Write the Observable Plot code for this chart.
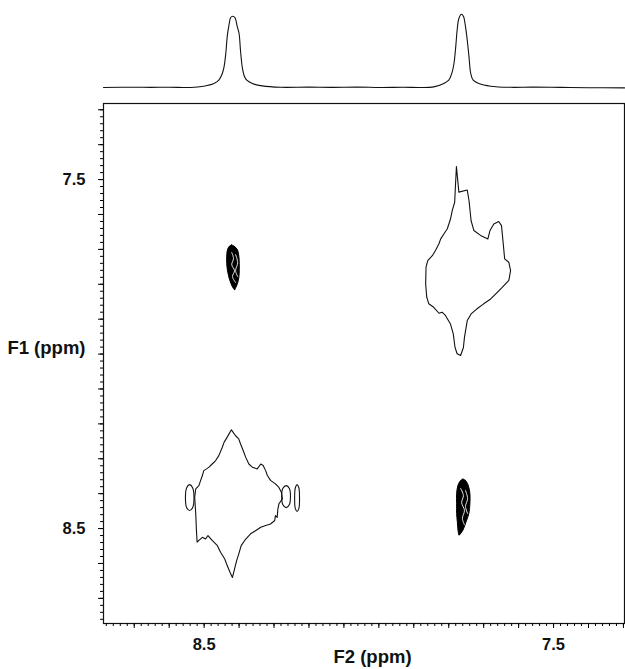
<!DOCTYPE html>
<html><head><meta charset="utf-8">
<script src="https://cdn.jsdelivr.net/npm/d3@7"></script>
<script src="https://cdn.jsdelivr.net/npm/@observablehq/plot@0.6"></script>
<style>
html,body{margin:0;padding:0;background:#fff;}
#chart svg{display:block;}
</style></head><body><div id="chart"></div>
<script>
// ---- Data (ppm) ----
const f2Domain = [8.788, 7.297];
const f1Domain = [7.282, 8.772];
const tickLabels = [8.5, 7.5];
const axisTitles = ["F2 (ppm)", "F1 (ppm)"];

// 1D projection spectrum along F2: [ppm, relative intensity]
const spectrum = [
  [8.788,0],[8.700,0.3],[8.653,0.1],[8.600,0.3],[8.539,0],[8.501,1.3],[8.472,4],[8.458,7.3],
  [8.448,14],[8.443,20.6],[8.438,34],[8.434,50.6],[8.429,62.3],[8.424,70],[8.418,71.3],
  [8.412,70],[8.405,60.6],[8.400,54],[8.396,37.3],[8.391,20.6],[8.386,12.3],[8.378,7.3],
  [8.362,4],[8.334,1.6],[8.281,0.2],[8.200,0.4],[8.138,0.1],[8.060,0.4],[7.995,0],[7.930,0.2],
  [7.881,0],[7.843,0.6],[7.814,4],[7.800,7.3],[7.790,15.6],[7.785,24],[7.780,40.6],
  [7.776,57.3],[7.771,69],[7.764,73.3],[7.758,71.3],[7.752,60.6],[7.747,47.3],[7.742,30.6],
  [7.737,14],[7.730,7.3],[7.714,4],[7.680,1.3],[7.623,0.2],[7.560,0.4],[7.480,0.1],[7.400,-0.2],[7.297,-0.4]
];

// Diagonal peak near 7.77 ppm: outline [F2, F1]
const diagPeakHigh = [
  [7.778,7.463],[7.771,7.536],[7.747,7.530],[7.742,7.560],[7.736,7.618],[7.728,7.646],[7.709,7.660],
  [7.688,7.670],[7.682,7.646],[7.671,7.627],[7.657,7.620],[7.649,7.632],[7.644,7.684],[7.640,7.727],
  [7.628,7.737],[7.623,7.761],[7.628,7.789],[7.647,7.809],[7.661,7.823],[7.680,7.842],[7.700,7.856],
  [7.720,7.871],[7.736,7.885],[7.747,7.904],[7.755,7.952],[7.758,7.981],[7.766,8.004],[7.776,7.999],
  [7.782,7.981],[7.787,7.942],[7.795,7.914],[7.809,7.890],[7.819,7.880],[7.828,7.883],[7.843,7.866],
  [7.857,7.856],[7.863,7.837],[7.866,7.799],[7.865,7.751],[7.860,7.732],[7.847,7.718],[7.838,7.703],
  [7.828,7.684],[7.823,7.670],[7.814,7.656],[7.804,7.641],[7.795,7.613],[7.790,7.589],[7.783,7.565],
  [7.781,7.522]
];

// Diagonal peak near 8.42 ppm: outline [F2, F1]
const diagPeakLow = [
  [8.422,8.217],[8.410,8.234],[8.401,8.243],[8.396,8.257],[8.388,8.277],[8.381,8.296],[8.372,8.315],
  [8.362,8.324],[8.348,8.329],[8.338,8.315],[8.331,8.319],[8.324,8.334],[8.319,8.348],[8.310,8.362],
  [8.296,8.372],[8.286,8.382],[8.279,8.396],[8.276,8.415],[8.286,8.429],[8.289,8.444],[8.291,8.468],
  [8.296,8.463],[8.298,8.477],[8.310,8.487],[8.324,8.491],[8.338,8.496],[8.353,8.506],[8.367,8.515],
  [8.381,8.530],[8.394,8.549],[8.401,8.573],[8.407,8.592],[8.413,8.616],[8.419,8.640],[8.426,8.625],
  [8.434,8.606],[8.441,8.587],[8.453,8.568],[8.462,8.549],[8.477,8.534],[8.489,8.520],[8.496,8.530],
  [8.505,8.525],[8.515,8.534],[8.520,8.539],[8.522,8.506],[8.524,8.458],[8.527,8.410],[8.524,8.386],
  [8.515,8.377],[8.510,8.362],[8.505,8.348],[8.501,8.334],[8.493,8.329],[8.486,8.324],[8.477,8.315],
  [8.467,8.305],[8.458,8.291],[8.448,8.267],[8.443,8.253],[8.434,8.238]
];

// Small side lobes beside the 8.42 diagonal peak
const lobeLeft = [[8.5415,8.374],[8.533,8.383],[8.529,8.411],[8.533,8.440],[8.5415,8.448],[8.550,8.440],[8.5535,8.411],[8.550,8.383]];
const lobeRight1 = [[8.265,8.377],[8.256,8.385],[8.253,8.408],[8.256,8.431],[8.265,8.440],[8.275,8.431],[8.278,8.408],[8.275,8.385]];
const lobeRight2 = [[8.234,8.374],[8.229,8.383],[8.227,8.413],[8.229,8.443],[8.234,8.451],[8.239,8.443],[8.241,8.413],[8.239,8.383]];

// Cross peaks (dense contour stacks): rows [F1, F2 left edge, F2 right edge]
const crossPeakA = [
  [7.689,8.420,8.420],[7.692,8.426,8.413],[7.703,8.432,8.403],[7.723,8.434,8.399],[7.742,8.434,8.398],
  [7.761,8.432,8.398],[7.780,8.428,8.399],[7.799,8.422,8.403],[7.813,8.415,8.409],[7.818,8.411,8.411]
];
const crossPeakB = [
  [8.360,7.758,7.758],[8.363,7.764,7.751],[8.377,7.772,7.743],[8.401,7.776,7.738],[8.429,7.776,7.738],
  [8.458,7.776,7.741],[8.482,7.774,7.749],[8.506,7.772,7.758],[8.520,7.770,7.768]
];
// light gaps between the innermost contour levels
const gapsA = [
  [[8.421,7.709],[8.416,7.726],[8.421,7.744],[8.413,7.761],[8.419,7.778],[8.410,7.795]],
  [[8.410,7.715],[8.404,7.738],[8.410,7.761],[8.404,7.778]]
];
const gapsB = [
  [[7.766,8.385],[7.758,8.405],[7.763,8.426],[7.755,8.448],[7.761,8.471],[7.755,8.489]],
  [[7.752,8.391],[7.746,8.414],[7.752,8.437],[7.746,8.457]]
];

// ---- Drawing ----
const font = "'Liberation Sans', Arial, Helvetica, sans-serif";
const W = 625, ML = 103, MR = 1;

const topPlot = Plot.plot({
  width: W, height: 100, marginLeft: ML, marginRight: MR, marginTop: 0, marginBottom: 13,
  x: {domain: f2Domain, axis: null},
  y: {domain: [0, 87], axis: null},
  marks: [
    Plot.line(spectrum, {x: d => d[0], y: d => d[1], stroke: "#111", strokeWidth: 1.1, curve: "catmull-rom"})
  ]
});

const minorTicks = d3.range(0, 75).map(i => +(7.30 + i * 0.02).toFixed(2));
const majorTicks = d3.range(0, 15).map(i => +(7.3 + i * 0.1).toFixed(1));
const minorY = minorTicks.filter(v => v >= f1Domain[0] && v <= f1Domain[1]);
const majorY = majorTicks.filter(v => v >= f1Domain[0] && v <= f1Domain[1]);
const fmt = d => tickLabels.includes(d) ? d.toFixed(1) : "";

const outline = (data) => Plot.line(data, {x: d => d[0], y: d => d[1], curve: "linear-closed", stroke: "#111", strokeWidth: 1.1});
const lobe = (data) => Plot.line(data, {x: d => d[0], y: d => d[1], curve: "catmull-rom-closed", stroke: "#111", strokeWidth: 1.1});
const blob = (data) => Plot.areaX(data, {y: d => d[0], x1: d => d[1], x2: d => d[2], fill: "#000", stroke: "#000", strokeWidth: 1, curve: "catmull-rom"});
const gaps = (list) => list.map(g => Plot.line(g, {x: d => d[0], y: d => d[1], stroke: "#fff", strokeWidth: 0.9, curve: "catmull-rom"}));

const mainPlot = Plot.plot({
  width: W, height: 569, marginLeft: ML, marginRight: MR, marginTop: 3, marginBottom: 46,
  style: {fontFamily: font},
  x: {domain: f2Domain},
  y: {domain: f1Domain, reverse: true},
  marks: [
    Plot.frame({stroke: "#111", strokeWidth: 1.2}),
    Plot.axisX(minorTicks, {anchor: "bottom", tickSize: 3, tickFormat: () => "", label: null}),
    Plot.axisX(majorTicks, {anchor: "bottom", tickSize: 5, tickPadding: 10, tickFormat: fmt, label: null, fontSize: 16.5, fontWeight: "bold", fill: "#111"}),
    Plot.axisY(minorY, {anchor: "left", tickSize: 3, tickFormat: () => "", label: null}),
    Plot.axisY(majorY, {anchor: "left", tickSize: 5, tickPadding: 13, tickFormat: fmt, label: null, fontSize: 16.5, fontWeight: "bold", fill: "#111"}),
    outline(diagPeakHigh),
    outline(diagPeakLow),
    lobe(lobeLeft), lobe(lobeRight1), lobe(lobeRight2),
    blob(crossPeakA), blob(crossPeakB),
    ...gaps(gapsA), ...gaps(gapsB),
    Plot.text([axisTitles[0]], {frameAnchor: "bottom", dx: 8.5, dy: 39, fontSize: 18.5, fontWeight: "bold", fill: "#111"}),
    Plot.text([axisTitles[1]], {frameAnchor: "left", dx: -18, dy: -15, textAnchor: "end", fontSize: 18.5, fontWeight: "bold", fill: "#111"})
  ]
});
topPlot.style.fontFamily = font;
document.getElementById("chart").append(topPlot, mainPlot);
</script>
</body></html>
